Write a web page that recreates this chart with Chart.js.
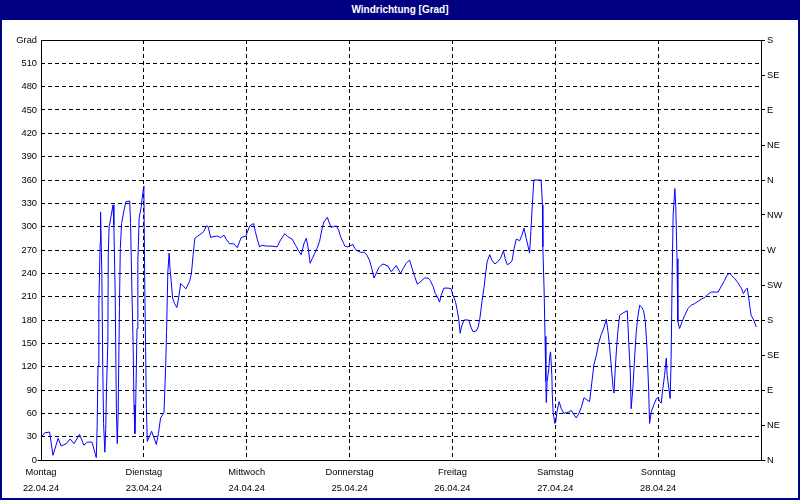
<!DOCTYPE html>
<html>
<head>
<meta charset="utf-8">
<title>Windrichtung</title>
<script src="https://cdn.jsdelivr.net/npm/chart.js@4.4.1/dist/chart.umd.min.js"></script>
<style>
    html, body { margin: 0; padding: 0; background: #fff; }
    #box { position: relative; width: 800px; height: 500px; overflow: hidden; }
    #chart { position: absolute; left: 0; top: 0; }
    #titel {
        position: absolute; left: 0; top: 0; width: 800px; height: 20px;
        background: #000080; color: #fff; text-align: center;
        font: bold 10px "Liberation Sans", Arial, sans-serif; line-height: 20px;
    }
    #rand {
        position: absolute; left: 0; top: 0; width: 800px; height: 500px;
        box-sizing: border-box; border: 2px solid #000080; pointer-events: none;
    }
</style>
</head>
<body>
<div id="box">
    <canvas id="chart" width="800" height="500"></canvas>
    <div id="titel">Windrichtung [Grad]</div>
    <div id="rand"></div>
</div>
<script>
// Beschriftungen
const tage = ["Montag", "Dienstag", "Mittwoch", "Donnerstag", "Freitag", "Samstag", "Sonntag"];
const daten = ["22.04.24", "23.04.24", "24.04.24", "25.04.24", "26.04.24", "27.04.24", "28.04.24"];
const richtungen = ["N", "NE", "E", "SE", "S", "SW", "W", "NW", "N", "NE", "E", "SE", "S"];

// Messwerte: Stunden seit Montag 00:00 und Windrichtung in Grad
const stunden = [
    0, 0.9, 2.0, 2.8, 4.0, 4.7, 5.9, 6.8, 7.7, 9.0, 10.0, 10.8, 11.9, 12.9, 13.1, 13.3, 13.5, 13.8, 13.9, 14.2,
    14.4, 14.6, 14.9, 15.1, 15.3, 15.6, 15.7, 15.9, 16.4, 16.8, 17.0, 17.3, 17.6, 17.8, 18.0, 18.3, 18.5, 18.8, 19.3, 19.8,
    20.7, 20.9, 21.2, 21.5, 21.7, 21.9, 22.1, 22.4, 22.6, 22.9, 23.4, 23.6, 23.9, 24.0, 24.2, 24.4, 24.6, 24.8, 25.3, 25.8,
    26.4, 26.9, 27.4, 27.9, 28.7, 29.1, 29.3, 29.6, 29.9, 30.1, 30.4, 30.7, 31.2, 31.7, 32.1, 32.6, 33.3, 33.8, 34.7, 35.1,
    35.5, 35.9, 36.6, 37.4, 38.0, 38.6, 39.0, 39.6, 40.1, 41.1, 41.9, 42.7, 43.2, 44.0, 45.0, 45.8, 46.7, 47.8, 48.7, 49.6,
    50.0, 50.5, 51.0, 51.6, 52.6, 53.9, 55.1, 55.9, 56.9, 57.6, 58.6, 59.4, 60.2, 60.7, 61.4, 61.9, 62.3, 62.8, 63.3, 63.9,
    64.4, 65.0, 65.6, 66.0, 66.8, 67.2, 67.7, 68.2, 68.9, 69.5, 69.9, 70.5, 70.9, 71.6, 72.3, 72.8, 73.2, 73.8, 74.6, 75.5,
    76.1, 76.7, 77.2, 77.7, 78.2, 78.8, 79.3, 79.8, 80.3, 81.0, 81.7, 82.3, 82.9, 83.5, 83.9, 84.5, 85.2, 86.0, 86.6, 87.2,
    87.8, 88.7, 89.5, 90.3, 90.8, 91.5, 92.0, 92.5, 93.0, 93.4, 94.0, 95.0, 95.7, 96.1, 96.7, 97.1, 97.5, 97.8, 98.1, 98.7,
    99.8, 100.3, 100.8, 101.6, 102.0, 102.4, 102.9, 103.4, 103.8, 104.1, 104.7, 105.2, 105.9, 106.6, 107.2, 107.9, 108.3, 108.8, 109.4, 109.9,
    110.4, 110.9, 111.7, 112.2, 112.7, 113.2, 113.6, 114.0, 114.3, 114.6, 115.0, 116.7, 117.0, 117.1, 117.4, 117.6, 117.8, 117.9, 118.1, 118.5,
    118.7, 118.9, 119.2, 119.3, 119.5, 119.9, 120.1, 120.4, 120.9, 121.4, 122.0, 122.6, 123.4, 123.7, 124.4, 124.9, 125.5, 126.1, 126.7, 127.2,
    128.0, 128.6, 129.0, 129.6, 130.1, 130.7, 131.4, 131.9, 132.3, 132.7, 133.1, 133.5, 133.7, 134.0, 134.3, 134.6, 135.0, 135.8, 136.8, 137.2,
    137.5, 137.7, 138.1, 138.5, 138.9, 139.3, 139.7, 140.1, 140.6, 141.0, 141.4, 141.8, 142.0, 142.4, 143.0, 143.6, 144.0, 144.4, 144.7, 145.1,
    145.5, 145.9, 146.1, 146.5, 146.8, 147.0, 147.3, 147.5, 147.9, 148.1, 148.4, 148.6, 149.0, 149.6, 150.2, 151.0, 151.7, 152.5, 153.3, 154.1,
    154.9, 155.6, 156.4, 157.2, 158.0, 158.9, 159.5, 160.1, 160.7, 161.2, 161.9, 162.6, 163.4, 163.9, 164.4, 164.8, 165.1, 165.4, 165.7, 166.3,
    166.9
];
const grad = [
    29, 35, 36, 6, 28, 18, 21, 27, 21, 33, 19, 23, 23, 3, 43, 121, 200, 279, 319, 238,
    126, 47, 10, 39, 94, 152, 266, 300, 315, 328, 302, 216, 60, 21, 60, 195, 272, 304, 319, 332,
    333, 304, 221, 146, 71, 34, 71, 169, 255, 311, 326, 336, 349, 352, 229, 146, 66, 24, 30, 37,
    28, 20, 34, 54, 61, 122, 165, 242, 266, 246, 229, 208, 201, 196, 208, 227, 223, 220, 230, 240,
    264, 285, 288, 291, 294, 301, 300, 286, 287, 288, 286, 289, 284, 278, 278, 273, 286, 288, 301, 304,
    294, 283, 274, 276, 275, 275, 274, 283, 291, 287, 284, 276, 268, 264, 279, 285, 274, 253, 259, 266,
    272, 281, 298, 306, 312, 306, 299, 300, 301, 295, 287, 280, 275, 274, 276, 277, 272, 269, 267, 267,
    263, 256, 246, 234, 240, 247, 250, 252, 251, 249, 242, 246, 250, 244, 240, 246, 253, 257, 246, 236,
    226, 230, 234, 234, 231, 223, 214, 210, 203, 212, 221, 221, 220, 212, 204, 193, 180, 163, 171, 180,
    180, 171, 165, 166, 171, 182, 204, 223, 242, 255, 264, 257, 252, 255, 259, 269, 259, 251, 253, 256,
    272, 284, 282, 289, 298, 285, 276, 266, 294, 324, 360, 360, 328, 274, 216, 159, 101, 74, 101, 118,
    133, 139, 109, 84, 61, 47, 49, 62, 75, 66, 60, 61, 62, 64, 58, 54, 60, 68, 80, 78,
    75, 103, 122, 135, 150, 161, 171, 181, 165, 144, 118, 92, 86, 118, 144, 165, 186, 189, 192, 144,
    114, 66, 92, 131, 165, 186, 199, 197, 192, 178, 144, 88, 47, 62, 71, 79, 80, 75, 73, 92,
    109, 131, 109, 92, 79, 122, 246, 315, 349, 328, 259, 178, 169, 178, 186, 195, 199, 201, 204, 207,
    209, 213, 216, 216, 216, 225, 231, 238, 240, 237, 233, 228, 221, 214, 219, 221, 210, 197, 186, 180,
    171
];

const schrift = { family: "'Liberation Sans', Arial, sans-serif", size: 9.3 };

// Rahmen um die Zeichenfläche, x-Achse ragt links und rechts etwas hinaus
const rahmenPlugin = {
    id: "rahmen",
    afterDraw(chart) {
        const { ctx, chartArea } = chart;
        const l = Math.round(chartArea.left) + 0.5;
        const r = Math.round(chartArea.right) + 0.5;
        const t = Math.round(chartArea.top) + 0.5;
        const b = Math.round(chartArea.bottom) + 0.5;
        ctx.save();
        ctx.strokeStyle = "#000";
        ctx.lineWidth = 1;
        ctx.setLineDash([]);
        ctx.beginPath();
        ctx.moveTo(l, t); ctx.lineTo(r, t);
        ctx.moveTo(l, t); ctx.lineTo(l, b);
        ctx.moveTo(r, t); ctx.lineTo(r, b);
        ctx.moveTo(l - 4, b); ctx.lineTo(r + 4, b);
        ctx.stroke();
        ctx.restore();
    }
};

const punkte = stunden.map((h, i) => ({ x: h, y: grad[i] }));

new Chart(document.getElementById("chart").getContext("2d"), {
    type: "line",
    data: {
        datasets: [{
            data: punkte,
            borderColor: "#0000ff",
            borderWidth: 1,
            pointRadius: 0,
            tension: 0,
            fill: false,
            yAxisID: "y"
        }]
    },
    options: {
        responsive: false,
        animation: false,
        layout: { padding: { top: 40, left: 0, right: 0, bottom: 0 } },
        plugins: { legend: { display: false }, tooltip: { enabled: false } },
        scales: {
            x: {
                type: "linear",
                min: 0,
                max: 168,
                afterFit: s => { s.height = 40; },
                ticks: {
                    stepSize: 24,
                    autoSkip: false,
                    maxRotation: 0,
                    padding: 5,
                    color: "#000",
                    font: { ...schrift, lineHeight: 1.65 },
                    callback: v => {
                        const i = Math.round(v / 24);
                        return tage[i] ? [tage[i], daten[i]] : "";
                    }
                },
                grid: { color: "#000", lineWidth: 1, drawTicks: false },
                border: { display: false, dash: [4, 3] }
            },
            y: {
                position: "left",
                min: 0,
                max: 540,
                afterFit: s => { s.width = 41; },
                ticks: {
                    stepSize: 30,
                    padding: 4,
                    color: "#000",
                    font: schrift,
                    callback: v => v === 540 ? "Grad" : v
                },
                grid: { color: "#000", lineWidth: 1, drawTicks: false },
                border: { display: false, dash: [4, 3] }
            },
            y2: {
                position: "right",
                min: 0,
                max: 540,
                afterFit: s => { s.width = 39; },
                ticks: {
                    stepSize: 45,
                    padding: 2,
                    color: "#000",
                    font: schrift,
                    callback: (v, i) => richtungen[i]
                },
                grid: { color: "#000", drawOnChartArea: false, drawTicks: true, tickLength: 4, tickBorderDash: [] },
                border: { display: false }
            }
        }
    },
    plugins: [rahmenPlugin]
});
</script>
</body>
</html>
